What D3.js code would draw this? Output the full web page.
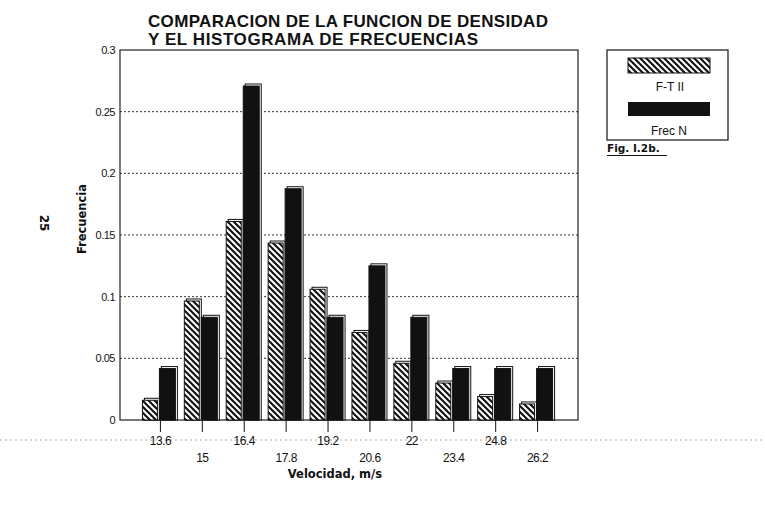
<!DOCTYPE html>
<html>
<head>
<meta charset="utf-8">
<script src="https://cdn.jsdelivr.net/npm/d3@7"></script>
<style>
  body { margin: 0; background: #fff; }
  text { font-family: "DejaVu Sans", "Liberation Sans", sans-serif; fill: #111; }
</style>
</head>
<body>
<script>
// datos
var categories = [13.6, 15, 16.4, 17.8, 19.2, 20.6, 22, 23.4, 24.8, 26.2];
var ftII  = [0.016, 0.0965, 0.161, 0.1435, 0.106, 0.071, 0.046, 0.030, 0.019, 0.013];
var frecN = [0.0417, 0.0833, 0.2708, 0.1875, 0.0833, 0.125, 0.0833, 0.0417, 0.0417, 0.0417];
var yTicks = [0, 0.05, 0.1, 0.15, 0.2, 0.25, 0.3];
var yTickLabels = ["0", "0.05", "0.1", "0.15", "0.2", "0.25", "0.3"];
var seriesNames = ["F-T II", "Frec N"];

var W = 765, H = 508;
var plot = {left: 120, right: 578, top: 50, bottom: 420};

var svg = d3.select("body").append("svg")
    .attr("width", W)
    .attr("height", H);

svg.append("rect").attr("width", W).attr("height", H).attr("fill", "#fff");

// patrón rayado
var defs = svg.append("defs");
var pat = defs.append("pattern")
    .attr("id", "hatch")
    .attr("patternUnits", "userSpaceOnUse")
    .attr("width", 6).attr("height", 6);
pat.append("rect").attr("width", 6).attr("height", 6).attr("fill", "#fff");
pat.append("path")
    .attr("d", "M0,0 L6,6 M-1,5 L1,7 M5,-1 L7,1")
    .attr("stroke", "#111")
    .attr("stroke-width", 2.1);

var xScale = d3.scaleLinear().domain([12.25, 27.55]).range([plot.left, plot.right]);
var yScale = d3.scaleLinear().domain([0, 0.3]).range([plot.bottom, plot.top]);

// ruido de escaneo (línea punteada)
svg.append("line")
    .attr("x1", 0).attr("x2", W)
    .attr("y1", 440).attr("y2", 440)
    .attr("stroke", "#aaa")
    .attr("stroke-dasharray", "2,3");

// título
var title = svg.append("g")
    .attr("font-weight", "bold")
    .attr("font-size", 17)
    .attr("font-family", "Liberation Sans, Arial, sans-serif");
title.append("text").attr("x", 148).attr("y", 27)
    .attr("textLength", 400).attr("lengthAdjust", "spacing")
    .attr("style", "font-family: 'Liberation Sans', sans-serif")
    .text("COMPARACION DE LA  FUNCION DE DENSIDAD");
title.append("text").attr("x", 148).attr("y", 45)
    .attr("textLength", 330).attr("lengthAdjust", "spacing")
    .attr("style", "font-family: 'Liberation Sans', sans-serif")
    .text("Y EL HISTOGRAMA DE FRECUENCIAS");

// rejilla
svg.append("g")
    .selectAll("line")
    .data(yTicks.filter(function(d) { return d > 0 && d < 0.3; }))
    .enter().append("line")
    .attr("x1", plot.left).attr("x2", plot.right)
    .attr("y1", function(d) { return yScale(d); })
    .attr("y2", function(d) { return yScale(d); })
    .attr("stroke", "#333")
    .attr("stroke-width", 1)
    .attr("stroke-dasharray", "2,2");

// marco
svg.append("rect")
    .attr("x", plot.left).attr("y", plot.top)
    .attr("width", plot.right - plot.left)
    .attr("height", plot.bottom - plot.top)
    .attr("fill", "none")
    .attr("stroke", "#222")
    .attr("stroke-width", 1.2);

// barras
function drawBars(values, x0, w, fill) {
  var g = svg.append("g");
  var rows = categories.map(function(c, i) { return {c: c, v: values[i]}; });
  // sombra 3D
  g.selectAll("rect.sh").data(rows).enter().append("rect")
      .attr("class", "sh")
      .attr("x", function(d) { return xScale(d.c) + x0 + 2; })
      .attr("y", function(d) { return yScale(d.v) - 2; })
      .attr("width", w)
      .attr("height", function(d) { return plot.bottom - yScale(d.v) + 2; })
      .attr("fill", "#fff")
      .attr("stroke", "#111")
      .attr("stroke-width", 1);
  g.selectAll("rect.bar").data(rows).enter().append("rect")
      .attr("class", "bar")
      .attr("x", function(d) { return xScale(d.c) + x0; })
      .attr("y", function(d) { return yScale(d.v); })
      .attr("width", w)
      .attr("height", function(d) { return plot.bottom - yScale(d.v); })
      .attr("fill", fill)
      .attr("stroke", "#111")
      .attr("stroke-width", 1);
}
drawBars(ftII, -18, 15, "url(#hatch)");
drawBars(frecN, -1, 16, "#111");

// eje Y
var yAxis = svg.append("g").attr("font-size", 11);
yAxis.selectAll("text").data(yTicks).enter().append("text")
    .attr("x", 115)
    .attr("y", function(d) { return yScale(d) + 4; })
    .attr("text-anchor", "end")
    .attr("style", "font-family: 'Liberation Sans Narrow', 'Liberation Sans', sans-serif")
    .attr("letter-spacing", -0.5)
    .text(function(d, i) { return yTickLabels[i]; });

// eje X
var xAxis = svg.append("g");
xAxis.selectAll("line").data(categories).enter().append("line")
    .attr("x1", function(d) { return xScale(d); })
    .attr("x2", function(d) { return xScale(d); })
    .attr("y1", plot.bottom).attr("y2", plot.bottom + 12)
    .attr("stroke", "#111");
xAxis.selectAll("text").data(categories).enter().append("text")
    .attr("x", function(d) { return xScale(d); })
    .attr("y", function(d, i) { return i % 2 == 0 ? 445 : 462; })
    .attr("text-anchor", "middle")
    .attr("font-size", 12)
    .attr("style", "font-family: 'Liberation Sans Narrow', 'Liberation Sans', sans-serif")
    .attr("letter-spacing", -0.5)
    .text(function(d) { return d; });

// títulos de ejes
svg.append("text")
    .attr("x", 335).attr("y", 478)
    .attr("text-anchor", "middle")
    .attr("font-weight", "bold")
    .attr("font-size", 11.5)
    .text("Velocidad, m/s");

svg.append("text")
    .attr("transform", "translate(86,219) rotate(-90)")
    .attr("text-anchor", "middle")
    .attr("font-weight", "bold")
    .attr("font-size", 11.5)
    .text("Frecuencia");

// número de página
svg.append("text")
    .attr("transform", "translate(40,223) rotate(90)")
    .attr("text-anchor", "middle")
    .attr("font-weight", "bold")
    .attr("font-size", 12)
    .text("25");

// leyenda
var legend = svg.append("g");
legend.append("rect")
    .attr("x", 607).attr("y", 50).attr("width", 121).attr("height", 90)
    .attr("fill", "#fff").attr("stroke", "#111").attr("stroke-width", 1.2);
legend.append("rect")
    .attr("x", 628).attr("y", 58).attr("width", 82).attr("height", 15)
    .attr("fill", "url(#hatch)").attr("stroke", "#111");
legend.append("text")
    .attr("x", 670).attr("y", 91).attr("text-anchor", "middle")
    .attr("font-size", 12)
    .attr("style", "font-family: 'Liberation Sans', sans-serif")
    .text(seriesNames[0]);
legend.append("rect")
    .attr("x", 628).attr("y", 102).attr("width", 82).attr("height", 14)
    .attr("fill", "#111");
legend.append("text")
    .attr("x", 669).attr("y", 135).attr("text-anchor", "middle")
    .attr("font-size", 12)
    .attr("style", "font-family: 'Liberation Sans', sans-serif")
    .text(seriesNames[1]);

svg.append("text")
    .attr("x", 607).attr("y", 152)
    .attr("font-weight", "bold")
    .attr("font-size", 10.5)
    .text("Fig. I.2b.");
svg.append("line")
    .attr("x1", 607).attr("x2", 667)
    .attr("y1", 155.5).attr("y2", 155.5)
    .attr("stroke", "#111");
</script>
</body>
</html>
